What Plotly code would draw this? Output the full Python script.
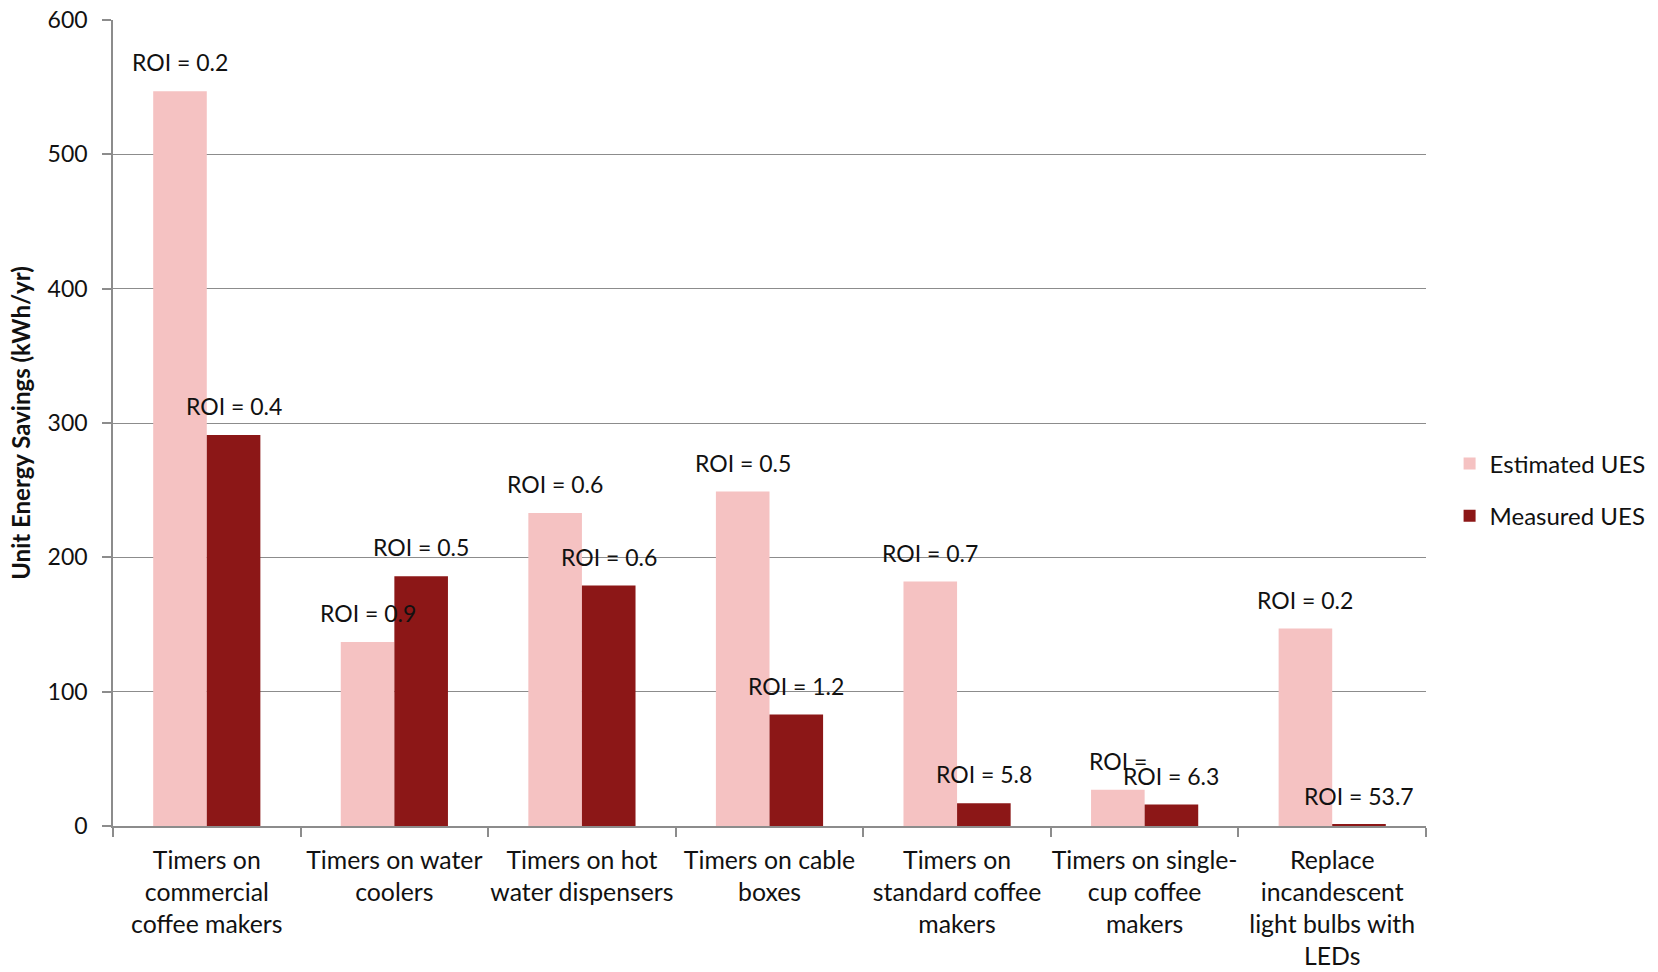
import plotly.graph_objects as go

categories = [
    "Timers on<br>commercial<br>coffee makers",
    "Timers on water<br>coolers",
    "Timers on hot<br>water dispensers",
    "Timers on cable<br>boxes",
    "Timers on<br>standard coffee<br>makers",
    "Timers on single-<br>cup coffee<br>makers",
    "Replace<br>incandescent<br>light bulbs with<br>LEDs",
]
estimated_ues = [547, 137, 233, 249, 182, 27, 147]
measured_ues = [291, 186, 179, 83, 17, 16, 1]
estimated_roi = ["ROI = 0.2", "ROI = 0.9", "ROI = 0.6", "ROI = 0.5", "ROI = 0.7", "ROI =", "ROI = 0.2"]
measured_roi = ["ROI = 0.4", "ROI = 0.5", "ROI = 0.6", "ROI = 1.2", "ROI = 5.8", "ROI = 6.3", "ROI = 53.7"]
y_ticks = [0, 100, 200, 300, 400, 500, 600]

FONT = "Lato, 'Open Sans', sans-serif"
TXT = "#111111"
PINK = "#F5C2C2"
DARK_RED = "#8C1717"
GRID = "#8C8C8C"
GAP = 0.4286  # gap between groups as a fraction of a category
FS = 23

fig = go.Figure()
fig.add_trace(go.Bar(x=categories, y=estimated_ues, name="Estimated UES",
                     legendgroup="est",
                     marker=dict(color=PINK, line=dict(width=0))))
fig.add_trace(go.Bar(x=categories, y=measured_ues, name="Measured UES",
                     legendgroup="meas",
                     marker=dict(color=DARK_RED, line=dict(width=0))))

# ROI labels centred above each bar
half = (1 - GAP) / 4
for i in range(len(categories)):
    for dx, val, txt in ((-half, estimated_ues[i], estimated_roi[i]),
                         (half, measured_ues[i], measured_roi[i])):
        fig.add_annotation(x=i + dx, y=val, xref="x", yref="y", text=txt,
                           showarrow=False, yanchor="middle", yshift=29,
                           font=dict(family=FONT, size=FS, color=TXT))

fig.update_layout(
    width=1658, height=972,
    margin=dict(l=113, r=232, t=20, b=146),
    paper_bgcolor="white", plot_bgcolor="white",
    barmode="group", bargap=GAP, bargroupgap=0,
    font=dict(family=FONT, size=FS, color=TXT),
    legend=dict(xref="container", yref="container", x=0.8743, y=0.496,
                xanchor="left", yanchor="middle",
                font=dict(family=FONT, size=24, color=TXT),
                itemsizing="constant", tracegroupgap=18, traceorder="grouped"),
)
fig.update_xaxes(
    type="category", tickson="boundaries", ticks="outside", ticklen=9,
    tickcolor=GRID, tickwidth=1.5, showline=True, linecolor=GRID, linewidth=1.5,
    showgrid=False, tickfont=dict(family=FONT, size=24.8, color=TXT),
    tickangle=0, mirror=False, automargin=False, ticklabelstandoff=11,
)
fig.update_yaxes(
    range=[0, 600], tickvals=y_ticks, ticks="outside", ticklen=9,
    tickcolor=GRID, tickwidth=1.5, showline=True, linecolor=GRID, linewidth=1.5,
    showgrid=True, gridcolor=GRID, gridwidth=1.2, zeroline=False,
    tickfont=dict(family=FONT, size=FS, color=TXT), automargin=False,
    ticklabelstandoff=10,
    title=dict(text="<b>Unit Energy Savings (kWh/yr)</b>", standoff=10,
               font=dict(family=FONT, size=24, color=TXT)),
)

fig.write_html("out.html")
